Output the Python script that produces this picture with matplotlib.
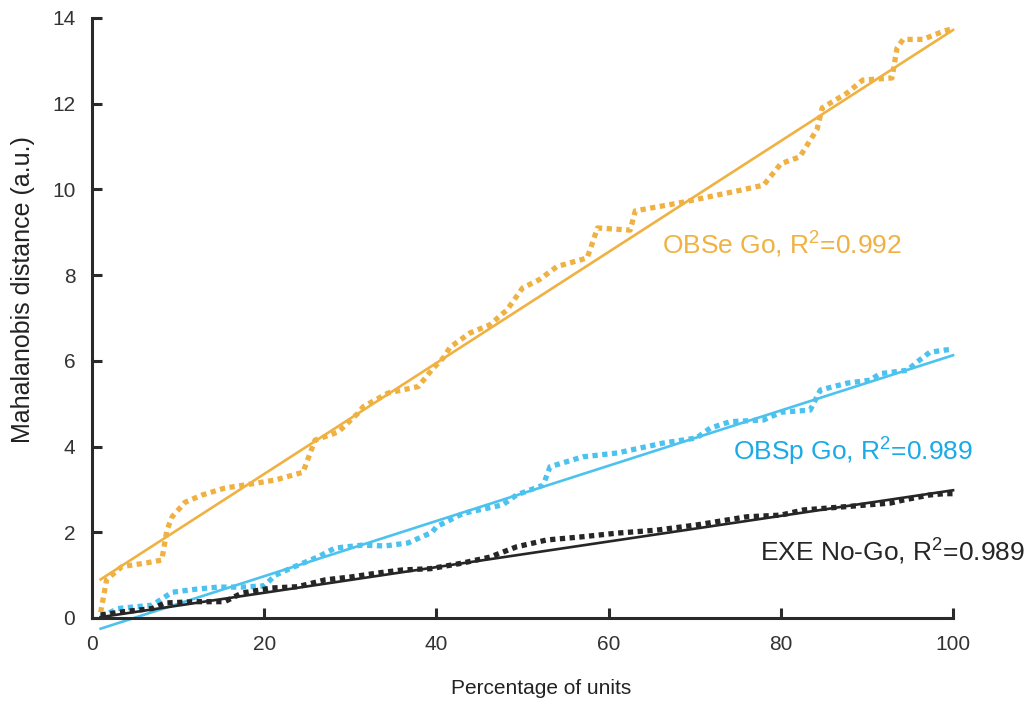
import matplotlib.pyplot as plt

plt.rcParams['font.family'] = ['Liberation Sans', 'DejaVu Sans']
plt.rcParams['mathtext.fontset'] = 'custom'
plt.rcParams['mathtext.rm'] = 'Liberation Sans'
plt.rcParams['mathtext.default'] = 'regular'

# OBSe Go (orange)
obse_x = [1, 1.7, 3.5, 6.2, 8.1, 8.7, 9.3, 10.8, 12.8, 15.4, 18.9, 21.3, 24.5, 25.9, 28.6,
          30.9, 31.5, 34.4, 37.9, 39.5, 40.8, 41.6, 43.9, 46.2, 48.2, 50, 52, 54, 57.5, 58.2,
          58.7, 62.5, 63.1, 68.6, 75.3, 78, 80, 82.2, 84.2, 84.8, 87.7, 89.5, 92.9, 93.5,
          94.2, 96.5, 99, 100]
obse_y = [0.13, 0.9, 1.2, 1.28, 1.35, 2.05, 2.36, 2.7, 2.87, 3.03, 3.14, 3.22, 3.4, 4.15, 4.34,
          4.78, 4.93, 5.25, 5.4, 5.8, 6.07, 6.32, 6.65, 6.84, 7.19, 7.7, 7.9, 8.2, 8.4, 8.8,
          9.1, 9.05, 9.5, 9.7, 9.98, 10.1, 10.6, 10.76, 11.4, 11.9, 12.25, 12.55, 12.6, 13.3,
          13.5, 13.5, 13.7, 13.75]

# OBSp Go (blue)
obsp_x = [1, 3, 7, 9.3, 12, 14.6, 17.4, 20, 21.3, 23.2, 26.3, 28.2, 31.4, 34, 36.7, 39.5, 40,
          43.1, 47.7, 49.3, 52.4, 53.2, 57, 61, 66.3, 70.2, 71.8, 74.1, 78, 80, 83.4, 84.6,
          87.7, 90.4, 91.5, 94.7, 95.8, 97.3, 99, 100]
obsp_y = [0.02, 0.22, 0.3, 0.6, 0.67, 0.72, 0.72, 0.75, 1.0, 1.17, 1.43, 1.63, 1.7, 1.68, 1.75,
          2.0, 2.13, 2.44, 2.64, 2.87, 3.1, 3.53, 3.76, 3.85, 4.08, 4.2, 4.43, 4.58, 4.62, 4.8,
          4.85, 5.32, 5.48, 5.55, 5.7, 5.78, 5.97, 6.2, 6.25, 6.27]

# EXE No-Go (black)
exe_x = [1, 3.8, 7, 8.5, 12, 15.4, 17.4, 20.9, 23.9, 27.1, 30.2, 33.2, 36, 39.3, 43, 46.2,
         49.3, 52.8, 56.7, 61, 65.6, 70.2, 76, 80, 82.6, 87.7, 92.7, 94.2, 97.3, 99, 100]
exe_y = [0.07, 0.15, 0.22, 0.35, 0.38, 0.38, 0.58, 0.7, 0.73, 0.89, 0.96, 1.05, 1.12, 1.15,
         1.28, 1.42, 1.66, 1.82, 1.89, 1.98, 2.05, 2.17, 2.36, 2.4, 2.52, 2.6, 2.68, 2.75,
         2.87, 2.9, 2.9]

# linear fits (end points)
fit_x = [1, 100]
obse_fit = [0.9, 13.72]
obsp_fit = [-0.25, 6.13]
exe_fit = [0.02, 2.98]

orange = '#F0B143'
blue = '#4CC2EE'
blue_txt = '#1BAAE6'
black = '#262626'

fig = plt.figure(figsize=(10.27, 7.02), dpi=100)
ax = fig.add_axes([0.0896, 0.1197, 0.8384, 0.8547])

for x, y, fy, c in [(obse_x, obse_y, obse_fit, orange),
                    (obsp_x, obsp_y, obsp_fit, blue),
                    (exe_x, exe_y, exe_fit, black)]:
    ax.plot(x, y, color=c, lw=3.8, dashes=(1.0, 0.85), dash_capstyle='butt', clip_on=False)
    ax.plot(fit_x, fy, color=c, lw=1.9, clip_on=False)

ax.text(66.2, 8.7, 'OBSe Go, R$^{2}$=0.992', color=orange, fontsize=19, va='center')
ax.text(74.4, 3.87, 'OBSp Go, R$^{2}$=0.989', color=blue_txt, fontsize=19, va='center')
ax.text(77.6, 1.54, 'EXE No-Go, R$^{2}$=0.989', color=black, fontsize=19, va='center')

ax.set_xlim(0, 100)
ax.set_ylim(0, 14)
ax.set_xticks([0, 20, 40, 60, 80, 100])
ax.set_yticks([0, 2, 4, 6, 8, 10, 12, 14])
for s in ['top', 'right']:
    ax.spines[s].set_visible(False)
for s in ['left', 'bottom']:
    ax.spines[s].set_linewidth(2.2)
    ax.spines[s].set_color('#2a2a2a')
ax.tick_params(direction='in', length=7, width=2.2, color='#2a2a2a',
               labelsize=15, labelcolor='#333333', pad=12)

ax.set_xlabel('Percentage of units', fontsize=15, color='#222222')
ax.set_ylabel('Mahalanobis distance (a.u.)', fontsize=18, color='#222222')
ax.xaxis.set_label_coords((541 - 92) / 861, -0.102)
ax.yaxis.set_label_coords(-0.066, (618 - 290) / 600)

fig.savefig('out.png', dpi=100)
